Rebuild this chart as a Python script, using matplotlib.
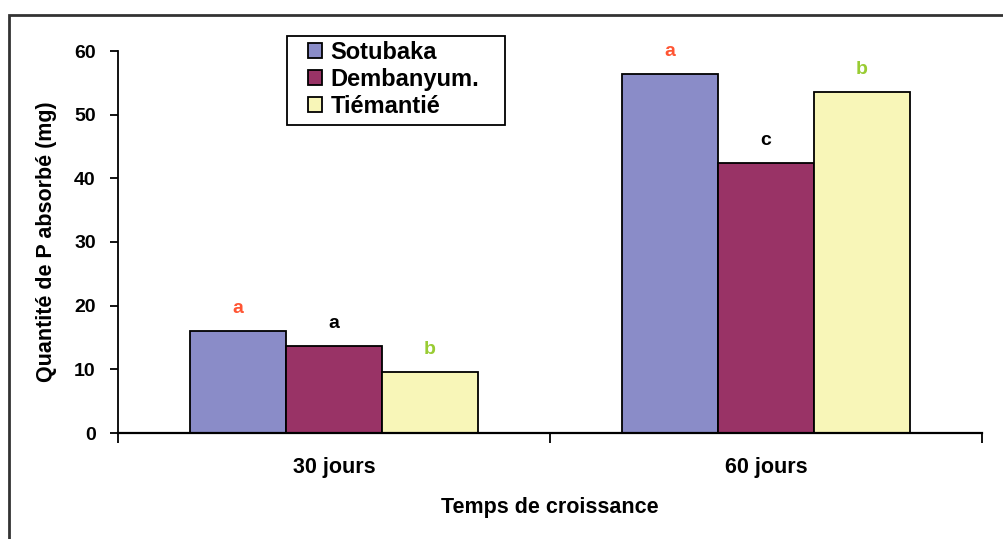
import matplotlib
matplotlib.use("Agg")
import matplotlib.pyplot as plt
from matplotlib.patches import Rectangle
import numpy as np

plt.rcParams['font.family'] = ['Liberation Sans', 'DejaVu Sans']

categories = ["30 jours", "60 jours"]
series_names = ["Sotubaka", "Dembanyum.", "Tiémantié"]
sotubaka = [16.0, 56.4]
dembanyum = [13.7, 42.4]
tiemantie = [9.6, 53.6]
letters_sotubaka = ["a", "a"]
letters_dembanyum = ["a", "c"]
letters_tiemantie = ["b", "b"]
y_ticks = [0, 10, 20, 30, 40, 50, 60]

colors = ["#8A8CC8", "#993366", "#F8F6B8"]
letter_colors = ["#FF5533", "#000000", "#99CC33"]

fig = plt.figure(figsize=(10.04, 5.39), dpi=100)
ax = fig.add_axes([118/1004, 1-433/539, 864/1004, (433-51)/539])

x = np.arange(len(categories))
w = 0.222
series = [sotubaka, dembanyum, tiemantie]
letters = [letters_sotubaka, letters_dembanyum, letters_tiemantie]
for i, (vals, name) in enumerate(zip(series, series_names)):
    pos = x + (i - 1) * w
    ax.bar(pos, vals, width=w, color=colors[i], edgecolor="black", linewidth=1.3, label=name, zorder=2)
    for p, v, l in zip(pos, vals, letters[i]):
        ax.text(p, v + 2.2, l, ha="center", va="bottom", color=letter_colors[i],
                fontsize=14, fontweight="bold")

ax.set_xlim(-0.5, 1.5)
ax.set_ylim(0, 60)
ax.set_yticks(y_ticks)
ax.set_xticks(x)
ax.set_xticklabels(categories, fontsize=15.5, fontweight="bold")
ax.set_xticks([-0.5, 0.5, 1.5], minor=True)
ax.tick_params(axis="x", which="major", length=0, pad=17)
ax.tick_params(axis="x", which="minor", length=7, width=1.3, direction="out")
ax.tick_params(axis="y", length=6, width=1.3, direction="out", labelsize=14, pad=10)
for lab in ax.get_yticklabels():
    lab.set_fontweight("bold")
for s in ["top", "right"]:
    ax.spines[s].set_visible(False)
ax.spines["left"].set_linewidth(1.3)
ax.spines["bottom"].set_linewidth(1.6)

ax.set_ylabel("Quantité de P absorbé (mg)", fontsize=15.5, fontweight="bold", labelpad=12)
ax.set_xlabel("Temps de croissance", fontsize=15.5, fontweight="bold", labelpad=14)

leg = ax.legend(loc="upper left", bbox_to_anchor=(308/1004, 1-41/539), bbox_transform=fig.transFigure,
                frameon=False, borderaxespad=0,
                handlelength=0.6, handleheight=0.6, handletextpad=0.35, labelspacing=0.17,
                borderpad=0.0, prop={"weight": "bold", "size": 17})

fig.patches.append(Rectangle((287/1004, 1-125/539), 218/1004, 89/539, transform=fig.transFigure,
                             fill=False, edgecolor="black", linewidth=1.3, zorder=5))

fig.patches.append(Rectangle((9/1004, -0.02), 1.1, 0.02 + 1 - 15/539, transform=fig.transFigure,
                             fill=False, edgecolor="#333333", linewidth=2))

fig.savefig("out.png", dpi=100)
